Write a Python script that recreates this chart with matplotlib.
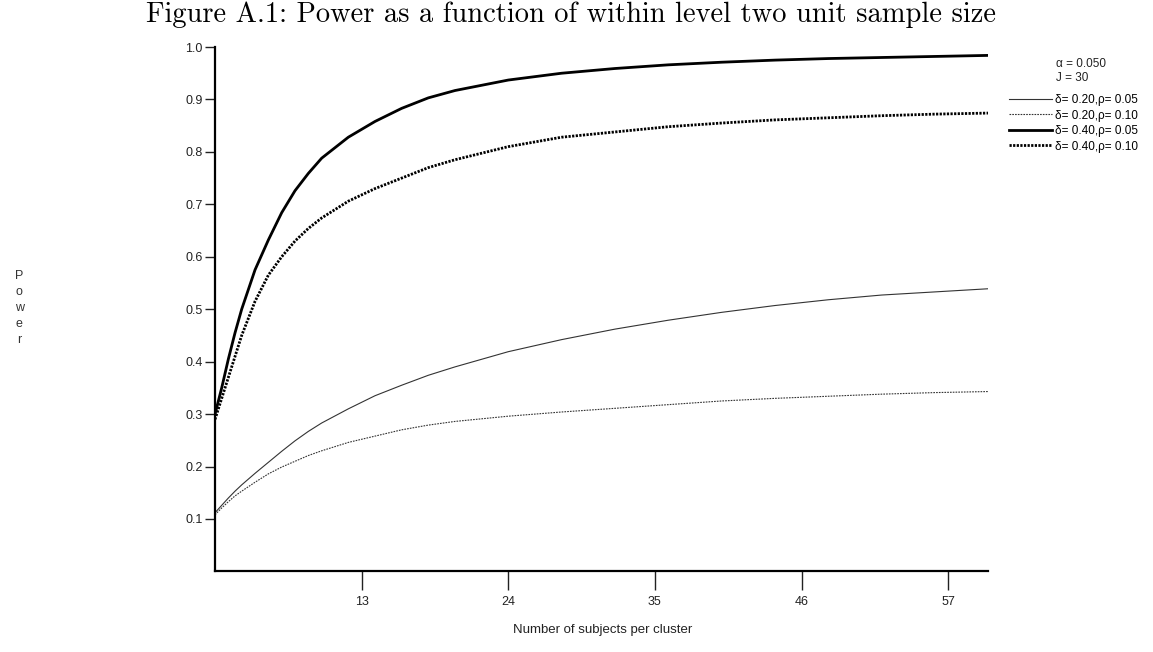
import matplotlib
matplotlib.use("Agg")
import matplotlib.pyplot as plt

# values
n_subjects = [2, 2.5, 3, 3.5, 4, 5, 6, 7, 8, 9, 10, 12, 14, 16, 18, 20, 24, 28, 32, 36, 40, 44, 48, 52, 56, 60]

power_d20_r05 = [0.112, 0.126, 0.140, 0.153, 0.165, 0.187, 0.208, 0.229, 0.249, 0.267, 0.283, 0.310,
                 0.335, 0.355, 0.374, 0.390, 0.419, 0.442, 0.462, 0.479, 0.494, 0.507, 0.518, 0.527,
                 0.533, 0.539]
power_d20_r10 = [0.108, 0.121, 0.133, 0.144, 0.153, 0.170, 0.186, 0.199, 0.210, 0.221, 0.230, 0.246,
                 0.258, 0.270, 0.279, 0.286, 0.296, 0.304, 0.311, 0.318, 0.325, 0.330, 0.334, 0.338,
                 0.341, 0.343]
power_d40_r05 = [0.300, 0.350, 0.405, 0.455, 0.500, 0.575, 0.632, 0.684, 0.726, 0.759, 0.788, 0.828,
                 0.858, 0.883, 0.903, 0.917, 0.937, 0.950, 0.959, 0.966, 0.971, 0.975, 0.978, 0.980,
                 0.982, 0.984]
power_d40_r10 = [0.290, 0.330, 0.370, 0.410, 0.450, 0.515, 0.565, 0.600, 0.630, 0.654, 0.674, 0.706,
                 0.730, 0.750, 0.770, 0.785, 0.810, 0.828, 0.838, 0.848, 0.855, 0.861, 0.865, 0.869,
                 0.872, 0.874]

labels = ["δ= 0.20,ρ= 0.05", "δ= 0.20,ρ= 0.10", "δ= 0.40,ρ= 0.05", "δ= 0.40,ρ= 0.10"]
x_ticks = [13, 24, 35, 46, 57]
y_ticks = [0.1, 0.2, 0.3, 0.4, 0.5, 0.6, 0.7, 0.8, 0.9, 1.0]

plt.rcParams["font.family"] = ["Liberation Sans", "DejaVu Sans"]

fig = plt.figure(figsize=(11.53, 6.52), dpi=100)
ax = fig.add_axes([0.1865, 0.1236, 0.6705, 0.8043])

ax.plot(n_subjects, power_d20_r05, color="#333333", lw=0.8, ls="-", label=labels[0])
ax.plot(n_subjects, power_d20_r10, color="#333333", lw=0.8, ls=(0, (1.5, 1)), label=labels[1])
ax.plot(n_subjects, power_d40_r05, color="black", lw=2.0, ls="-", label=labels[2])
ax.plot(n_subjects, power_d40_r10, color="black", lw=2.0, ls=(0, (0.8, 0.5)), label=labels[3])

ax.set_xlim(2, 60)
ax.set_ylim(0, 1.0)
ax.set_xticks(x_ticks)
ax.set_yticks(y_ticks)
ax.set_yticklabels([f"{v:.1f}" for v in y_ticks])

for side in ("top", "right"):
    ax.spines[side].set_visible(False)
for side in ("left", "bottom"):
    ax.spines[side].set_linewidth(1.6)

ax.tick_params(axis="y", direction="out", length=7, width=1, labelsize=9,
               pad=2, colors="#222222")
ax.tick_params(axis="x", direction="out", length=13.7, width=1, labelsize=9,
               pad=4, colors="#222222")

fig.text(0.523, 0.033, "Number of subjects per cluster", ha="center", va="center",
         fontsize=9.5, color="#222222")
fig.text(0.0165, 0.528, "P\no\nw\ne\nr", ha="center", va="center",
         fontsize=9, color="#333333", linespacing=1.45)

fig.text(0.495, 0.977, "Figure A.1: Power as a function of within level two unit sample size",
         ha="center", va="center", fontsize=20.5, family="cmr10")

fig.text(0.916, 0.902, "α = 0.050", ha="left", va="center", fontsize=8.5, color="#222222")
fig.text(0.916, 0.880, "J = 30", ha="left", va="center", fontsize=8.5, color="#222222")

ax.legend(loc="upper left", bbox_to_anchor=(1009 / 1153, 1 - 94 / 652),
          bbox_transform=fig.transFigure, frameon=False, fontsize=8.5,
          handlelength=3.65, handletextpad=0.25, labelspacing=0.3, borderpad=0,
          borderaxespad=0)

fig.savefig("out.png", dpi=100)
